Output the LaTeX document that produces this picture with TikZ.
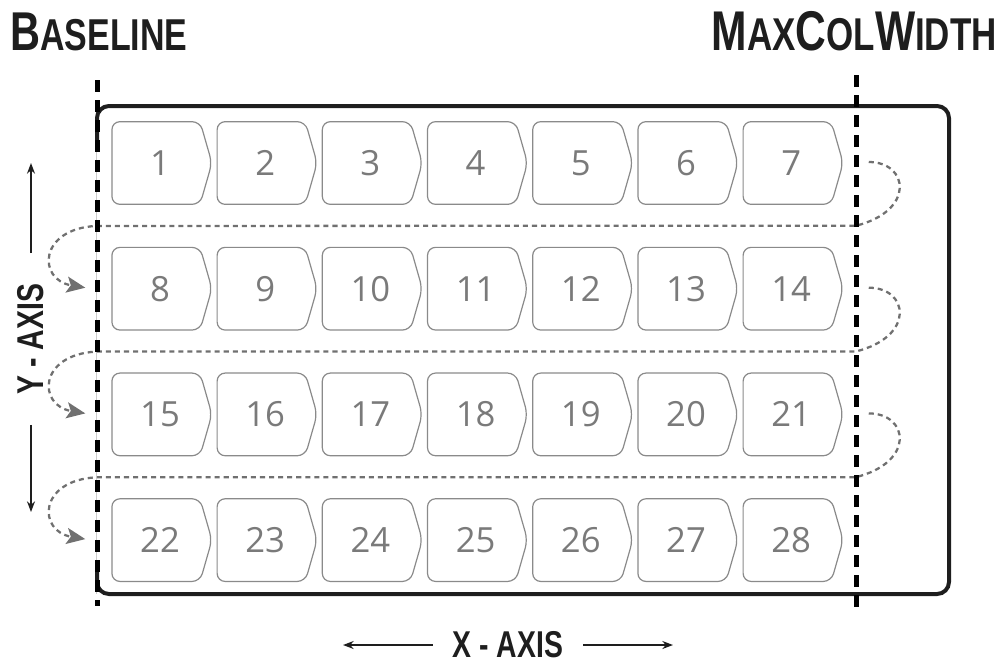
\documentclass[tikz,border=0pt]{standalone}
\usepackage{fontspec}
\setmainfont{Open Sans}
\newfontfamily\headfont[FakeStretch=0.76]{Liberation Sans}
\usepackage{tikz}
\usetikzlibrary{arrows.meta, positioning, calc, shapes.symbols}
\definecolor{Ink}{HTML}{1E1E1E}
\definecolor{CellLine}{HTML}{8A8A8A}
\definecolor{CellText}{HTML}{7A7A7A}
\definecolor{FlowGray}{HTML}{707070}

\begin{document}
\begin{tikzpicture}[x=0.75pt, y=-0.75pt, every node/.style={inner sep=0pt}]
  \tikzstyle{cell}=[signal, signal to=east, signal from=nowhere, signal pointer angle=148, draw=CellLine, line width=0.9pt, rounded corners=6pt, minimum width=75pt, minimum height=62pt, text=CellText, font=\fontsize{26}{26}\selectfont]
  \tikzstyle{flow}=[draw=FlowGray, line width=1.7pt, dash pattern=on 3.8pt off 3pt, -{Stealth[length=14pt, width=12pt, inset=3pt]}]
  \tikzstyle{guide}=[draw=black, line width=3.75pt, dash pattern=on 9pt off 6pt]
  \tikzstyle{head}=[text=Ink, font=\headfont\bfseries]
  \tikzstyle{axislabel}=[text=Ink, font=\headfont\bfseries\fontsize{28}{28}\selectfont]
  \tikzstyle{axis}=[draw=Ink, line width=1.1pt, -{Stealth[length=8pt, width=6pt]}]

  \useasboundingbox (0,0) rectangle (1001,662);

  % frame, its left side sits under the baseline
  \draw[line width=0.6pt, draw=black!20] (96,106) -- (96,594);
  \draw[draw=Ink, line width=3pt, rounded corners=9pt] (97,140) -- (97,106) -- (949,106) -- (949,594) -- (97,594) -- (97,560);

  % cells
  \foreach \r in {0,...,3}
    \foreach \c in {1,...,7} {
      \pgfmathtruncatemacro\k{7*\r+\c}
      \node[cell] (b\k) at ({156+(\c-1)*105.2},{163+\r*125.7}) {\kern6pt\k};
    }

  % snake order between rows
  \foreach \a/\b in {7/8, 14/15, 21/22}
    \draw[flow] ($(b\a.east)+(25,-1)$) .. controls +(40,0) and +(60,-15) .. ($(b\a.east)+(12,62.8)$)
      -- ($(b\b.west)+(-15,-62.8)$) .. controls +(-58,3) and +(-48,-8) .. ($(b\b.west)+(-26,-1)$);

  \draw[guide] (97,80) -- (97,606);
  \draw[guide] (856,75) -- (856,610);

  \node[head, anchor=base west] (baseline) at (10,50)
    {{\fontsize{41}{41}\selectfont B}{\fontsize{33.5}{33.5}\selectfont ASELINE}};
  \node[head, anchor=base east] (maxcol) at (997,50)
    {{\fontsize{42}{42}\selectfont M}{\fontsize{34.5}{34.5}\selectfont AX}{\fontsize{42}{42}\selectfont C}{\fontsize{34.5}{34.5}\selectfont OL}{\fontsize{42}{42}\selectfont W}{\fontsize{34.5}{34.5}\selectfont IDTH}};

  \node[axislabel, rotate=90, outer sep=23pt] (yaxis) at (31,339) {Y - AXIS};
  \node[axislabel, outer sep=15pt] (xaxis) at (508,645) {X - AXIS};
  \coordinate (ytop) at (31,163);
  \coordinate (ybot) at (31,512);
  \coordinate (xleft) at (343,645);
  \coordinate (xright) at (673,645);
  \draw[axis] (yaxis) -- (ytop);
  \draw[axis] (yaxis) -- (ybot);
  \draw[axis] (xaxis) -- (xleft);
  \draw[axis] (xaxis) -- (xright);
\end{tikzpicture}
\end{document}
